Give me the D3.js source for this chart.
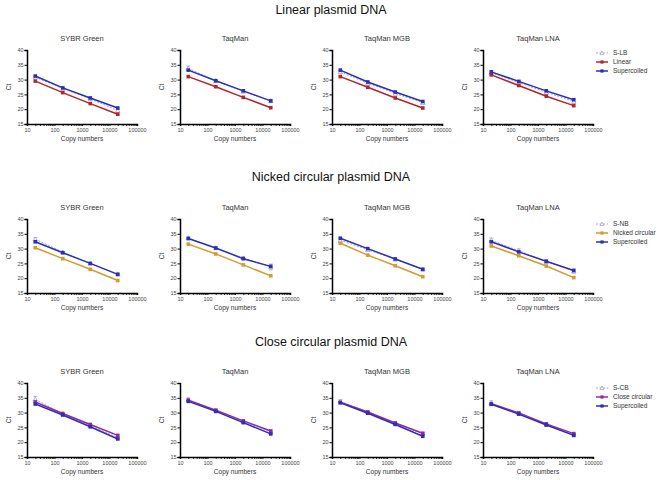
<!DOCTYPE html>
<html>
<head>
<meta charset="utf-8">
<script src="https://cdn.jsdelivr.net/npm/d3@7"></script>
<style>
  body { margin: 0; background: #fff; }
  svg text { font-family: "Liberation Sans", Arial, sans-serif; }
</style>
</head>
<body>
<svg id="chart" width="662" height="480"></svg>
<script>
// data
const copies = [20, 200, 2000, 20000];
const assays = ["SYBR Green", "TaqMan", "TaqMan MGB", "TaqMan LNA"];
const xTicks = [10, 100, 1000, 10000, 100000];
const yTicks = [15, 20, 25, 30, 35, 40];
const rowTitles = ["Linear plasmid DNA", "Nicked circular plasmid DNA", "Close circular plasmid DNA"];
const rowLegends = [
  ["S-LB", "Linear", "Supercoiled"],
  ["S-NB", "Nicked circular", "Supercoiled"],
  ["S-CB", "Close circular", "Supercoiled"]
];

// Linear row (one array per assay)
const linearStd = [[30.8, 27.0, 23.5, 19.5], [33.8, 29.6, 26.0, 22.8], [32.6, 28.8, 25.3, 22.2], [32.3, 29.0, 25.7, 22.6]];
const linearCt  = [[29.5, 25.6, 21.9, 18.3], [31.0, 27.6, 24.0, 20.5], [31.0, 27.4, 23.8, 20.4], [31.6, 28.0, 24.4, 21.2]];
const linearSc  = [[31.2, 27.2, 23.8, 20.4], [33.2, 29.6, 26.2, 22.8], [33.2, 29.2, 25.8, 22.6], [32.6, 29.4, 26.2, 23.2]];
const linearSd  = [[0.3, 0.3, 0.3, 0.4], [0.8, 0.5, 0.4, 0.5], [0.5, 0.4, 0.3, 0.4], [0.8, 0.6, 0.8, 0.8]];

// Nicked circular row
const nickedStd = [[33.2, 28.8, 25.0, 21.4], [33.6, 30.2, 26.8, 23.8], [32.8, 29.6, 26.4, 23.0], [32.8, 29.3, 25.6, 22.4]];
const nickedCt  = [[30.3, 26.6, 23.0, 19.2], [31.5, 28.2, 24.5, 20.8], [31.8, 27.8, 24.2, 20.5], [30.9, 27.6, 24.1, 20.2]];
const nickedSc  = [[32.3, 28.6, 25.0, 21.3], [33.4, 30.2, 26.6, 24.0], [33.5, 30.0, 26.5, 23.0], [32.3, 28.9, 25.7, 22.6]];
const nickedSd  = [[0.5, 0.3, 0.3, 0.3], [0.4, 0.4, 0.5, 1.0], [0.9, 0.4, 0.3, 0.3], [0.8, 0.6, 0.7, 0.7]];

// Close circular row
const closeStd = [[34.5, 29.5, 25.6, 21.6], [34.4, 30.8, 27.0, 23.4], [33.8, 30.2, 26.4, 22.8], [33.2, 29.7, 26.0, 22.6]];
const closeCt  = [[33.6, 29.7, 26.0, 22.3], [34.2, 30.8, 27.2, 23.8], [33.5, 30.2, 26.5, 23.0], [33.0, 29.9, 26.2, 22.9]];
const closeSc  = [[32.9, 29.2, 25.2, 21.1], [33.8, 30.4, 26.6, 22.8], [33.3, 29.8, 26.0, 22.0], [32.8, 29.5, 25.8, 22.3]];
const closeSd  = [[1.0, 0.3, 0.3, 0.3], [0.6, 0.4, 0.4, 0.3], [0.6, 0.3, 0.3, 0.3], [0.8, 0.3, 0.3, 0.3]];

const rows = [
  {std: linearStd, ct: linearCt, sc: linearSc, sd: linearSd, color: "#b3262b"},
  {std: nickedStd, ct: nickedCt, sc: nickedSc, sd: nickedSd, color: "#d69a2d"},
  {std: closeStd, ct: closeCt, sc: closeSc, sd: closeSd, color: "#98289a"}
];

const stdColor = "#a9a2c8";
const scColor = "#2b2fb6";
const textColor = "#333";

// layout
const panelX = [27, 180, 332, 483];
const rowTop = [50, 219, 383];
const rowTitleY = [14, 181, 346];
const plotW = 110, plotH = 74;
const legendX = 596;
const legendY = [53, 224, 388];

const svg = d3.select("#chart");

const x = d3.scaleLog().domain([10, 100000]).range([0, plotW]);
const y = d3.scaleLinear().domain([15, 40]).range([plotH, 0]);

// minor log ticks for the x axis
let xAll = [];
for (let d = 10; d < 100000; d *= 10) {
  for (let k = 1; k < 10; k++) xAll.push(d * k);
}
xAll.push(100000);

const line = d3.line().x((d, i) => x(copies[i])).y(d => y(d));

function drawMarker(g, type, color, px, py, s) {
  if (type === "tri") {
    g.append("path")
      .attr("d", `M${px},${py - s}L${px + s},${py + s * 0.8}L${px - s},${py + s * 0.8}Z`)
      .attr("fill", "#fff").attr("stroke", color).attr("stroke-width", 0.8);
  } else {
    g.append("rect")
      .attr("x", px - s).attr("y", py - s)
      .attr("width", s * 2).attr("height", s * 2)
      .attr("fill", color);
  }
}

function drawSeries(g, vals, sd, color, type, dashed) {
  g.append("path")
    .datum(vals)
    .attr("d", line)
    .attr("fill", "none")
    .attr("stroke", color)
    .attr("stroke-width", dashed ? 1 : 1.5)
    .attr("stroke-dasharray", dashed ? "2,1.5" : null);
  vals.forEach((v, i) => {
    const px = x(copies[i]);
    if (sd) {
      const e = sd[i];
      g.append("path")
        .attr("d", `M${px},${y(v - e)}V${y(v + e)}M${px - 2},${y(v + e)}H${px + 2}M${px - 2},${y(v - e)}H${px + 2}`)
        .attr("stroke", color).attr("stroke-width", 0.8).attr("fill", "none");
    }
    drawMarker(g, type, color, px, y(v), type === "tri" ? 2.2 : 1.8);
  });
}

rows.forEach((row, r) => {
  svg.append("text")
    .attr("x", 331).attr("y", rowTitleY[r])
    .attr("text-anchor", "middle")
    .attr("font-size", 12.5)
    .attr("fill", "#111")
    .text(rowTitles[r]);

  assays.forEach((name, a) => {
    const g = svg.append("g")
      .attr("transform", `translate(${panelX[a]},${rowTop[r]})`);

    g.append("text")
      .attr("x", plotW / 2).attr("y", -9)
      .attr("text-anchor", "middle")
      .attr("font-size", 7.5)
      .attr("fill", textColor)
      .text(name);

    // y axis
    const ya = g.append("g")
      .call(d3.axisLeft(y).tickValues(yTicks).tickSize(2.5).tickPadding(1));
    ya.select(".domain").attr("stroke-width", 1.5);
    ya.selectAll(".tick line").attr("stroke-width", 1);
    ya.selectAll("text").attr("font-size", 5.5).attr("fill", "#444")
      .attr("font-family", "Liberation Sans, Arial");

    // x axis
    const xa = g.append("g")
      .attr("transform", `translate(0,${plotH})`)
      .call(d3.axisBottom(x).tickValues(xAll).tickSizeOuter(0).tickSize(2).tickPadding(2)
        .tickFormat(d => xTicks.includes(d) ? String(d) : ""));
    xa.select(".domain").attr("stroke-width", 1.5);
    xa.selectAll(".tick line").attr("stroke-width", 0.8);
    xa.selectAll("text").attr("font-size", 5.5).attr("fill", "#444")
      .attr("font-family", "Liberation Sans, Arial");

    g.append("text")
      .attr("x", plotW / 2).attr("y", plotH + 17)
      .attr("text-anchor", "middle")
      .attr("font-size", 6.5)
      .attr("fill", textColor)
      .text("Copy numbers");

    g.append("text")
      .attr("transform", `translate(-16,${plotH / 2}) rotate(-90)`)
      .attr("text-anchor", "middle")
      .attr("font-size", 6.5)
      .attr("fill", textColor)
      .text("Ct");

    drawSeries(g, row.std[a], row.sd[a], stdColor, "tri", true);
    drawSeries(g, row.ct[a], null, row.color, "sq", false);
    drawSeries(g, row.sc[a], null, scColor, "sq", false);
  });

  // legend
  const lg = svg.append("g").attr("transform", `translate(${legendX},${legendY[r]})`);
  const lColors = [stdColor, row.color, scColor];
  const lTypes = ["tri", "sq", "sq"];
  rowLegends[r].forEach((lab, i) => {
    const ly = i * 9;
    lg.append("line")
      .attr("x1", 0).attr("x2", 12).attr("y1", ly).attr("y2", ly)
      .attr("stroke", lColors[i]).attr("stroke-width", i === 0 ? 1 : 1.5)
      .attr("stroke-dasharray", i === 0 ? "2,1.5" : null);
    drawMarker(lg, lTypes[i], lColors[i], 6, ly, i === 0 ? 2 : 1.6);
    lg.append("text")
      .attr("x", 17).attr("y", ly + 2.3)
      .attr("font-size", 6.5)
      .attr("fill", textColor)
      .text(lab);
  });
});
</script>
</body>
</html>
